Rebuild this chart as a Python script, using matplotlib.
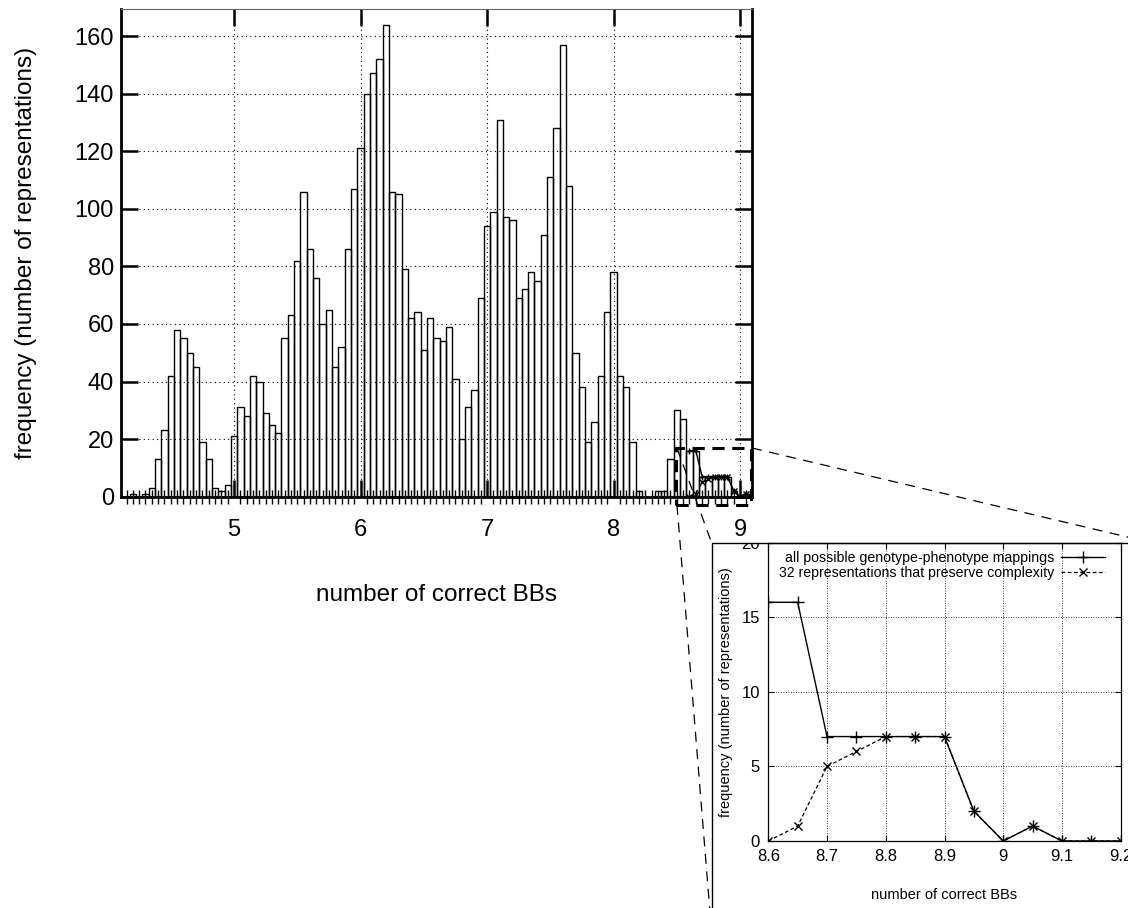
import numpy as np
import matplotlib.pyplot as plt
from matplotlib.patches import Rectangle
from matplotlib.lines import Line2D
from matplotlib.ticker import MultipleLocator
from matplotlib.transforms import Bbox, TransformedBbox

plt.rcParams['font.family'] = ['Liberation Sans', 'DejaVu Sans']

# histogram of correct building blocks, bins every 0.05
bb = np.round(np.arange(4.15, 9.051, 0.05), 2)
freq = [0, 1, 0, 1, 3, 13, 23, 42, 58, 55, 50, 45, 19, 13, 3, 2, 4,
        21, 31, 28, 42, 40, 29, 25, 22, 55, 63, 82, 106, 86, 76, 60, 65, 45, 52, 86, 107,
        121, 140, 147, 152, 164, 106, 105, 79, 62, 64, 51, 62, 55, 54, 59, 41, 20, 31, 37, 69,
        94, 99, 131, 97, 96, 69, 72, 78, 75, 91, 111, 128, 157, 108, 50, 38, 19, 26, 42, 64,
        78, 42, 38, 19, 2, 0, 0, 2, 2, 13, 30, 27, 16, 16, 7, 7, 7, 7, 7, 2,
        0, 1]

# zoomed tail
tail_x = [8.6, 8.65, 8.7, 8.75, 8.8, 8.85, 8.9, 8.95, 9.0, 9.05, 9.1, 9.15, 9.2]
tail_all = [16, 16, 7, 7, 7, 7, 7, 2, 0, 1, 0, 0, 0]
tail_32 = [0, 1, 5, 6, 7, 7, 7, 2, 0, 1, 0, 0, 0]
label_all = 'all possible genotype-phenotype mappings'
label_32 = '32 representations that preserve complexity'

W, H = 1128, 908


def fx(x):
    return x / W


def fy(y):
    return 1 - y / H


fig = plt.figure(figsize=(W / 100, H / 100), dpi=100)

# main histogram
ax = fig.add_axes([fx(120.7), fy(496.7), (751.7 - 120.7) / W, (496.7 - 9.3) / H])
ax.bar(bb, freq, width=0.05, fill=False, edgecolor='black', linewidth=1.0)
ax.plot(tail_x, tail_all, color='black', lw=1.0, marker='+', ms=5)
ax.plot(tail_x, tail_32, color='black', lw=1.0, ls=(0, (3, 2)), marker='x', ms=4)
ax.set_xlim(4.104, 9.092)
ax.set_ylim(0, 169.3)
ax.set_xticks([5, 6, 7, 8, 9])
ax.set_yticks(range(0, 161, 20))
ax.xaxis.set_minor_locator(MultipleLocator(0.05))
ax.grid(True, which='major', color='black', linestyle=(0, (1, 3)), linewidth=0.8)
ax.tick_params(which='major', direction='in', length=12, width=1.8, top=True, right=True,
               labelsize=17, pad=16)
ax.tick_params(axis='y', which='major', pad=5)
ax.tick_params(which='minor', direction='inout', length=10, width=1.0, top=False)
for side in ['left', 'bottom', 'right']:
    ax.spines[side].set_linewidth(2.0)
ax.spines['top'].set_linewidth(0.8)
ax.spines['top'].set_color('0.4')
ax.set_xlabel('number of correct BBs', fontsize=17.5, labelpad=31)
ax.set_ylabel('frequency (number of representations)', fontsize=17.5, labelpad=27)

# dashed box marking the zoomed region
ax.add_patch(Rectangle((8.49, -2.9), 0.6, 19.9, fill=False, ls=(0, (4, 2.5)), lw=2.2,
                       edgecolor='black', clip_on=False, zorder=5))

# connectors from the box to the inset
for (x0, y0), (x1, y1) in [((677, 448), (711.7, 543)), ((677, 505), (711.7, 933)),
                           ((752, 448), (1140, 540))]:
    fig.add_artist(Line2D([fx(x0), fx(x1)], [fy(y0), fy(y1)], color='black', lw=0.9,
                          ls=(0, (8, 6)), zorder=1))

# inset frame
fig.add_artist(Rectangle((fx(711.7), fy(933)), (1140 - 711.7) / W, (933 - 543) / H,
                         transform=fig.transFigure, facecolor='white', edgecolor='black',
                         lw=1.0, zorder=2))

ax_in = fig.add_axes([fx(768.3), fy(841), (1120.7 - 768.3) / W, (841 - 542.6) / H])
ax_in.set_zorder(3)
ax_in.patch.set_alpha(0)
ax_in.plot(tail_x, tail_all, color='black', lw=1.0, marker='+', ms=8, mew=1.0, label=label_all)
ax_in.plot(tail_x, tail_32, color='black', lw=0.9, ls=(0, (3, 2)), marker='x', ms=6, mew=1.0,
           label=label_32)
ax_in.set_xlim(8.6, 9.2)
ax_in.set_ylim(0, 20)
ax_in.set_xticks([8.6, 8.7, 8.8, 8.9, 9.0, 9.1, 9.2])
ax_in.set_xticklabels(['8.6', '8.7', '8.8', '8.9', '9', '9.1', '9.2'])
ax_in.set_yticks([0, 5, 10, 15, 20])
ax_in.grid(True, color='black', linestyle=(0, (1, 2)), linewidth=0.6)
ax_in.tick_params(direction='in', length=4, width=0.8, top=True, right=True, labelsize=12,
                  pad=6)
for s in ax_in.spines.values():
    s.set_linewidth(0.9)
ax_in.set_xlabel('number of correct BBs', fontsize=10.5, labelpad=17)
ax_in.set_ylabel('frequency (number of representations)', fontsize=10.5, labelpad=6)
ax_in.legend(loc='upper right', bbox_to_anchor=(fx(1105), fy(551)),
             bbox_transform=fig.transFigure, frameon=False, markerfirst=False,
             fontsize=10.2, handlelength=3.1, handletextpad=0.5, labelspacing=0.1,
             borderpad=0, borderaxespad=0)

# the top of the inset frame cuts through its upper tick label
clip = TransformedBbox(Bbox([[0, 0], [1, fy(543)]]), fig.transFigure)
for lbl in ax_in.get_yticklabels():
    lbl.set_clip_box(clip)
    lbl.set_clip_on(True)

fig.savefig('out.png', dpi=100)
